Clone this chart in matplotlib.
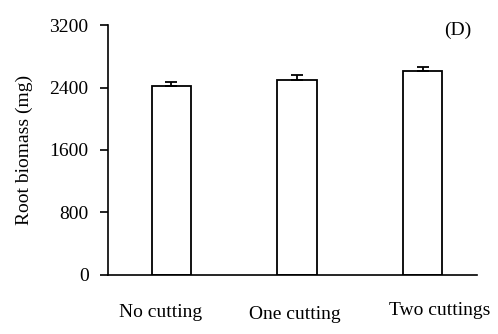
import numpy as np
import matplotlib.pyplot as plt

plt.rcParams['font.family'] = 'Liberation Serif'

# Root biomass per cutting treatment (mean and upper error)
treatments = ["No cutting", "One cutting", "Two cuttings"]
biomass = [2419, 2492, 2607]
errors = [55, 68, 60]

x = np.arange(len(treatments))

fig = plt.figure(figsize=(4.98, 3.34), dpi=100)
ax = fig.add_axes([0.217, 0.177, 0.741, 0.748])

ax.bar(x, biomass, width=0.31, color='white', edgecolor='black', linewidth=1.3,
       yerr=[np.zeros(len(errors)), errors],
       error_kw=dict(ecolor='black', elinewidth=1.3, capsize=4, capthick=1.3))

ax.set_xlim(-0.5, 2.43)
ax.set_ylim(0, 3200)
ax.set_yticks([0, 800, 1600, 2400, 3200])
ax.tick_params(axis='y', direction='out', length=6, width=1.2, labelsize=14, pad=8)
ax.set_xticks([])

for side in ['top', 'right']:
    ax.spines[side].set_visible(False)
ax.spines['left'].set_linewidth(1.2)
ax.spines['bottom'].set_linewidth(1.2)

ax.set_ylabel("Root biomass (mg)", fontsize=14, labelpad=12)

# category labels sit a little below the axis, slightly staggered
label_x = [-0.08, 0.98, 2.13]
label_y = [-0.152, -0.16, -0.143]
for lx, ly, name in zip(label_x, label_y, treatments):
    ax.text(lx, ly, name, transform=ax.get_xaxis_transform(),
            ha='center', va='center', fontsize=14)

ax.text(0.985, 0.98, "(D)", transform=ax.transAxes, ha='right', va='center', fontsize=14)

plt.savefig("out.png", dpi=100)
